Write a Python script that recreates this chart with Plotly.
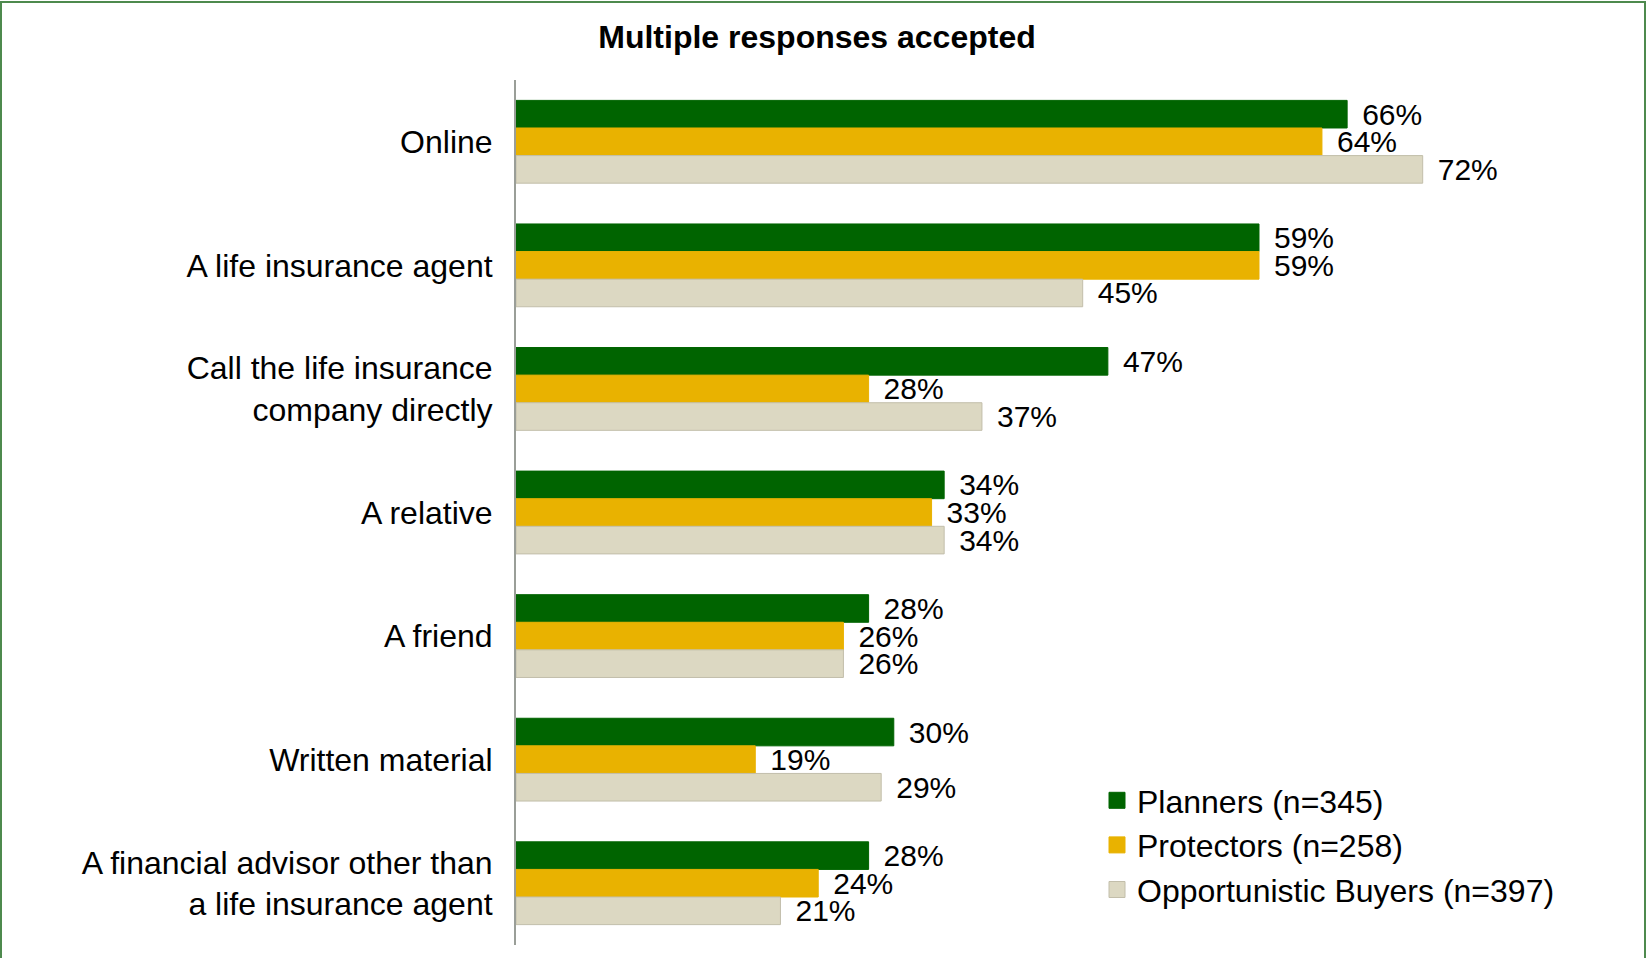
import plotly.graph_objects as go

categories = [
    "Online",
    "A life insurance agent",
    "Call the life insurance<br>company directly",
    "A relative",
    "A friend",
    "Written material",
    "A financial advisor other than<br>a life insurance agent",
]
series_names = ["Planners (n=345)", "Protectors (n=258)", "Opportunistic Buyers (n=397)"]
planners = [66, 59, 47, 34, 28, 30, 28]
protectors = [64, 59, 28, 33, 26, 19, 24]
opportunistic = [72, 45, 37, 34, 26, 29, 21]
title_text = "Multiple responses accepted"

colors = ["#006400", "#E9B200", "#DCD8C2"]
line_colors = ["#006400", "#E9B200", "#C2BEAA"]
values = [planners, protectors, opportunistic]

W, H = 1647, 958
L, R, T, B = 516, 48, 80, 13
FONT = "Arial, Liberation Sans, sans-serif"

fig = go.Figure()
for name, vals, c, lc in zip(series_names, values, colors, line_colors):
    fig.add_trace(go.Bar(
        y=categories, x=vals, name=name, orientation="h",
        marker=dict(color=c, line=dict(color=lc, width=1)),
        text=["\u2009\u2009%d%%" % v for v in vals],
        textposition="outside", constraintext="none", cliponaxis=False,
        textfont=dict(family=FONT, size=30, color="#000000"),
        hoverinfo="skip", showlegend=False,
    ))
# legend entries (larger square swatches)
for i, (name, c, lc) in enumerate(zip(series_names, colors, line_colors)):
    fig.add_trace(go.Scatter(
        x=[None], y=[None], mode="markers", name=name,
        legendgroup="g%d" % i,
        marker=dict(symbol="square", size=17, color=c,
                    line=dict(color=lc, width=1)),
        hoverinfo="skip",
    ))

pw = W - L - R
ph = H - T - B
fig.update_layout(
    width=W, height=H,
    margin=dict(l=L, r=R, t=T, b=B),
    paper_bgcolor="white", plot_bgcolor="white",
    barmode="group", bargap=0.33, bargroupgap=0,
    font=dict(family=FONT, size=32, color="#000000"),
    title=dict(text="<b>%s</b>" % title_text, x=817 / W, xanchor="center",
               y=1 - 37 / H, yref="container", yanchor="middle",
               font=dict(family=FONT, size=32, color="#000000")),
    xaxis=dict(visible=False, range=[0, 86], fixedrange=True),
    yaxis=dict(autorange="reversed", showline=True, linecolor="#9A9E98",
               linewidth=2, ticks="", showgrid=False, zeroline=False,
               ticklabelstandoff=15,
               tickfont=dict(family=FONT, size=32, color="#000000")),
    legend=dict(x=(1097 - L) / pw, xanchor="left", y=1 - (773 - T) / ph,
                yanchor="top", bgcolor="rgba(0,0,0,0)",
                font=dict(family=FONT, size=32, color="#000000"),
                traceorder="normal", tracegroupgap=2, itemsizing="trace"),
    showlegend=True,
    shapes=[dict(type="rect", xref="paper", yref="paper",
                 x0=(1 - L) / pw, x1=(W - 2 - L) / pw,
                 y0=1 - (H + 5 - T) / ph, y1=1 - (2 - T) / ph,
                 line=dict(color="#4E8A4E", width=2), fillcolor="rgba(0,0,0,0)",
                 layer="below")],
)

fig.write_html("out.html", config={"displayModeBar": False},
               post_script="document.body.style.margin='0';")
